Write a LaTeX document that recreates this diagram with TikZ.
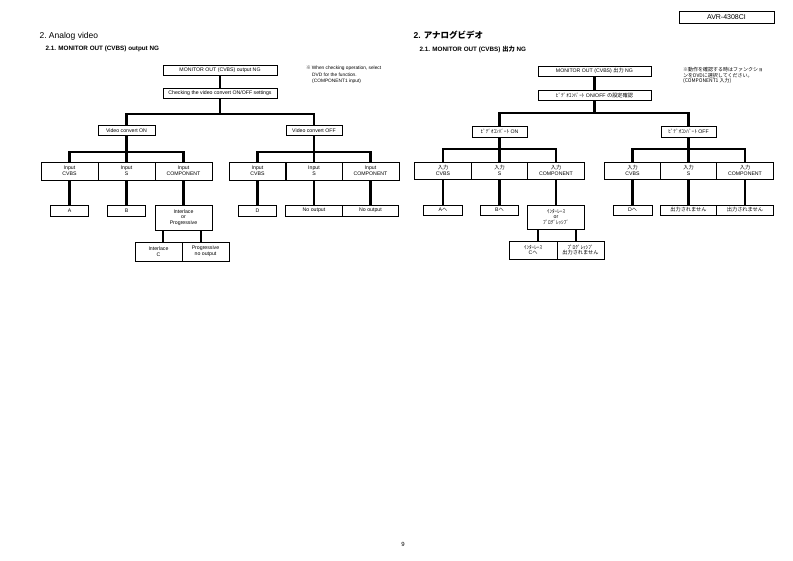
\documentclass[tikz,border=0pt]{standalone}
\usepackage{fontspec}
\setmainfont{Liberation Sans}
\newfontfamily\jp{Noto Sans CJK JP}
\begin{document}
\begin{tikzpicture}[x=1pt,y=-1pt,
        box/.style 2 args={draw, line width=0.75pt, minimum width=#1pt, minimum height=#2pt,
            inner sep=0pt, align=center, font=\fontsize{5.2}{5.8}\selectfont},
        wire/.style={line width=2.1pt}]
    \useasboundingbox (0,0) rectangle (793,561);
    % page header and titles
    \node[draw, line width=0.75pt, minimum width=95pt, minimum height=11pt,
        font=\fontsize{7}{8}\selectfont] (model) at (726.5,17.5) {AVR-4308CI};
    \node[anchor=base west, font=\fontsize{8.5}{10}\selectfont] (title-en) at (36,39) {2.~Analog video};
    \node[anchor=base west, font=\bfseries\fontsize{6.3}{7}\selectfont] (sub-en) at (42,51) {2.1. MONITOR OUT (CVBS) output NG};
    \node[anchor=base west, font=\bfseries\fontsize{8.5}{10}\selectfont] (title-jp) at (410,38.5) {2. {\jp アナログビデオ}};
    \node[anchor=base west, font=\bfseries\fontsize{6.3}{7}\selectfont] (sub-jp) at (416,51.5) {2.1. MONITOR OUT (CVBS) {\jp 出力} NG};
    \node (page) at (403,544) {\fontsize{6}{7}\selectfont 9};

    % English chart
    \node[anchor=north west, align=left, inner sep=0pt, font=\fontsize{4.8}{6.5}\selectfont] (note-en) at (306,66)
        {{\jp ※}\,When checking operation, select\\\hspace*{6pt}DVD for the function.\\\hspace*{6pt}(COMPONENT1 input)};
    \node[box={114}{9.5}] (mon) at (220,70.5) {MONITOR OUT (CVBS) output NG};
    \node[box={114}{9.5}] (chk) at (220,93.5) {Checking the video convert ON/OFF settings};
    \node[box={57}{9.5}] (on) at (126.5,130.5) {Video convert ON};
    \node[box={56}{9.5}] (off) at (314,130.5) {Video convert OFF};
    \foreach \x/\n/\t in {69.5/ina/CVBS, 126.5/inb/S, 183.5/inc/COMPONENT, 257.5/ind/CVBS, 314/ine/S, 370.5/inf/COMPONENT}
        \node[box={57}{18}] (\n) at (\x,171) {Input\\\t};
    \node[box={38}{11}] (ra) at (69.5,210.5) {A};
    \node[box={38}{11}] (rb) at (126.5,210.5) {B};
    \node[box={57}{25}] (rc) at (183.5,217.5) {Interlace\\or\\Progressive};
    \node[box={38}{11}] (rd) at (257.5,210.5) {D};
    \node[box={56.5}{11}] (re) at (314,210.5) {No output};
    \node[box={56.5}{11}] (rf) at (370.5,210.5) {No output};
    \node[box={47}{19}] (ci) at (158.5,251.5) {Interlace\\C};
    \node[box={47}{19}] (cp) at (205.5,251.5) {Progressive\\no output};
    \draw[wire] (mon) -- (chk);
    \draw[wire] (chk.south) -- ++(0,15.75) coordinate (jon);
    \draw[wire] (on.north) |- (jon) -| (off.north);
    \draw[wire] (on.south) -- ++(0,16.75) coordinate (jin);
    \draw[wire] (ina.north) |- (jin) -| (inc.north);
    \draw[wire] (jin) -- (inb.north);
    \draw[wire] (off.south) -- ++(0,16.75) coordinate (jout);
    \draw[wire] (ind.north) |- (jout) -| (inf.north);
    \draw[wire] (jout) -- (ine.north);
    \foreach \a/\b in {ina/ra, inb/rb, inc/rc, ind/rd, ine/re, inf/rf}
        \draw[wire] (\a) -- (\b);
    \draw[wire] ([xshift=4.5pt]ci.north) -- ([xshift=4.5pt]ci.north |- rc.south);
    \draw[wire] ([xshift=-4.5pt]cp.north) -- ([xshift=-4.5pt]cp.north |- rc.south);

    % Japanese chart
    \node[anchor=north west, align=left, inner sep=0pt, font=\jp\fontsize{5}{5.6}\selectfont] (note-jp) at (683,67)
        {※動作を確認する時はファンクショ\\ンをDVDに選択してください。\\(COMPONENT1 入力)};
    \node[box={113}{10}] (jmon) at (594.5,71) {MONITOR OUT (CVBS) {\jp 出力} NG};
    \node[box={113}{10}] (jchk) at (594.5,95.5) {{\jp ﾋﾞﾃﾞｵｺﾝﾊﾞｰﾄ} ON/OFF {\jp の設定確認}};
    \node[box={55}{11}] (jon-box) at (499.5,131.5) {{\jp ﾋﾞﾃﾞｵｺﾝﾊﾞｰﾄ} ON};
    \node[box={55}{11}] (joff-box) at (688.5,131.5) {{\jp ﾋﾞﾃﾞｵｺﾝﾊﾞｰﾄ} OFF};
    \foreach \x/\n/\t in {443/jina/CVBS, 499.5/jinb/S, 556/jinc/COMPONENT, 632.5/jind/CVBS, 688.5/jine/S, 745/jinf/COMPONENT}
        \node[box={56.5}{17}] (\n) at (\x,170.5) {{\jp 入力}\\\t};
    \node[box={39}{10}] (jra) at (443,210) {A{\jp へ}};
    \node[box={38}{10}] (jrb) at (499.5,210) {B{\jp へ}};
    \node[box={57}{24}] (jrc) at (556,217) {{\jp ｲﾝﾀｰﾚｰｽ}\\or\\{\jp ﾌﾟﾛｸﾞﾚｯｼﾌﾞ}};
    \node[box={39}{10}] (jrd) at (632.5,210) {D{\jp へ}};
    \node[box={56.5}{10}] (jre) at (688.5,210) {\jp 出力されません};
    \node[box={56.5}{10}] (jrf) at (745,210) {\jp 出力されません};
    \node[box={48}{18}] (jci) at (533,250) {{\jp ｲﾝﾀｰﾚｰｽ}\\C{\jp へ}};
    \node[box={47}{18}] (jcp) at (580.5,250) {{\jp ﾌﾟﾛｸﾞﾚｯｼﾌﾞ}\\{\jp 出力されません}};
    \draw[wire] (jmon) -- (jchk);
    \draw[wire] (jchk.south) -- ++(0,12.5) coordinate (kon);
    \draw[wire] (jon-box.north) |- (kon) -| (joff-box.north);
    \draw[wire] (jon-box.south) -- ++(0,12) coordinate (kin);
    \draw[wire] (jina.north) |- (kin) -| (jinc.north);
    \draw[wire] (kin) -- (jinb.north);
    \draw[wire] (joff-box.south) -- ++(0,12) coordinate (kout);
    \draw[wire] (jind.north) |- (kout) -| (jinf.north);
    \draw[wire] (kout) -- (jine.north);
    \foreach \a/\b in {jina/jra, jinb/jrb, jinc/jrc, jind/jrd, jine/jre, jinf/jrf}
        \draw[wire] (\a) -- (\b);
    \draw[wire] ([xshift=5pt]jci.north) -- ([xshift=5pt]jci.north |- jrc.south);
    \draw[wire] ([xshift=-4.5pt]jcp.north) -- ([xshift=-4.5pt]jcp.north |- jrc.south);
\end{tikzpicture}
\end{document}
